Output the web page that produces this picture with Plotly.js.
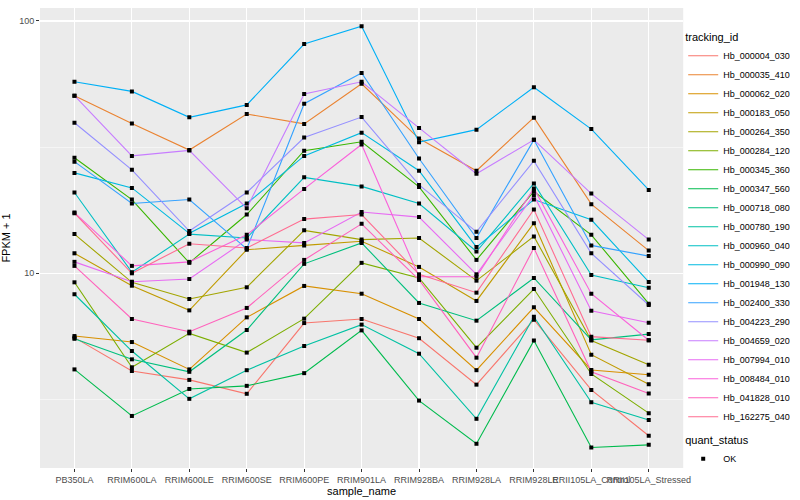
<!DOCTYPE html>
<html>
<head>
<meta charset="utf-8">
<script src="https://cdn.plot.ly/plotly-3.0.1.min.js"></script>
<style>html,body{margin:0;padding:0;background:#fff}#chart{width:800px;height:500px}</style>
</head>
<body>
<div id="chart"></div>
<script>
// Categories (x axis)
const samples = ["PB350LA","RRIM600LA","RRIM600LE","RRIM600SE","RRIM600PE","RRIM901LA",
                 "RRIM928BA","RRIM928LA","RRIM928LE","RRII105LA_Control","RRII105LA_Stressed"];

// Series names (legend order)
const trackingIds = ["Hb_000004_030","Hb_000035_410","Hb_000062_020","Hb_000183_050","Hb_000264_350",
  "Hb_000284_120","Hb_000345_360","Hb_000347_560","Hb_000718_080","Hb_000780_190","Hb_000960_040",
  "Hb_000990_090","Hb_001948_130","Hb_002400_330","Hb_004223_290","Hb_004659_020","Hb_007994_010",
  "Hb_008484_010","Hb_041828_010","Hb_162275_040"];

// Series colours (ggplot hue palette, 20 levels)
const seriesColors = ["#F8766D","#EA8331","#D89000","#C09B00","#A3A500","#7CAE00","#39B600","#00BB4E",
  "#00BF7D","#00C1A3","#00BFC4","#00BAE0","#00B0F6","#35A2FF","#9590FF","#C77CFF","#E76BF3",
  "#FA62DB","#FF62BC","#FF6C91"];

// FPKM + 1 values, one array per tracking_id, in sample order
const Hb_000004_030 = [5.56, 4.10, 3.78, 3.33, 6.35, 6.59, 5.53, 3.62, 6.55, 3.45, 2.27];
const Hb_000035_410 = [50.6, 39.2, 30.8, 42.8, 39.1, 56.4, 34.2, 25.5, 41.4, 18.8, 12.3];
const Hb_000062_020 = [5.64, 5.34, 4.16, 6.69, 8.91, 8.30, 6.59, 4.13, 7.33, 4.14, 3.96];
const Hb_000183_050 = [12.0, 8.93, 7.13, 12.4, 12.9, 13.4, 10.6, 7.77, 15.8, 4.76, 3.63];
const Hb_000264_350 = [14.3, 9.21, 7.91, 8.80, 14.8, 13.6, 13.8, 9.35, 14.0, 5.41, 4.34];
const Hb_000284_120 = [9.21, 4.24, 5.78, 4.85, 6.61, 11.0, 9.58, 5.07, 8.66, 3.99, 2.79];
const Hb_000345_360 = [28.7, 19.6, 11.0, 17.1, 30.6, 33.2, 22.0, 11.3, 21.1, 14.2, 7.58];
const Hb_000347_560 = [4.16, 2.72, 3.48, 3.58, 4.02, 5.94, 3.13, 2.11, 5.41, 2.04, 2.09];
const Hb_000718_080 = [5.50, 4.56, 4.07, 5.96, 10.9, 13.2, 7.63, 6.49, 9.58, 5.45, 5.74];
const Hb_000780_190 = [8.26, 4.92, 3.18, 4.13, 5.15, 6.26, 4.80, 2.65, 6.73, 3.08, 2.62];
const Hb_000960_040 = [20.9, 10.1, 14.3, 13.8, 24.0, 22.1, 18.9, 12.2, 22.7, 9.85, 8.77];
const Hb_000990_090 = [25.0, 21.8, 14.4, 18.9, 29.2, 36.1, 25.5, 12.7, 19.6, 16.3, 9.24];
const Hb_001948_130 = [57.4, 52.6, 41.5, 46.5, 81.0, 95.3, 33.1, 37.1, 54.6, 37.3, 21.4];
const Hb_002400_330 = [27.7, 18.9, 19.6, 12.5, 47.0, 62.2, 28.5, 13.8, 33.8, 12.9, 11.7];
const Hb_004223_290 = [39.5, 25.7, 14.7, 20.9, 34.5, 41.6, 22.4, 14.6, 27.9, 12.0, 7.49];
const Hb_004659_020 = [50.6, 29.2, 30.7, 18.1, 51.4, 57.4, 37.7, 24.8, 33.8, 20.7, 13.6];
const Hb_007994_010 = [11.1, 9.26, 9.49, 13.6, 13.2, 17.5, 16.7, 9.91, 20.4, 7.11, 6.37];
const Hb_008484_010 = [17.4, 10.7, 11.1, 14.2, 21.6, 32.4, 9.69, 9.69, 21.7, 8.30, 5.43];
const Hb_041828_010 = [10.7, 6.59, 5.87, 7.29, 11.3, 15.7, 9.41, 4.63, 12.6, 4.07, 3.34];
const Hb_162275_040 = [17.3, 10.0, 13.1, 12.6, 16.4, 17.1, 9.91, 8.38, 17.9, 5.61, 5.43];

const quantStatus = ["OK"];

const seriesValues = [Hb_000004_030, Hb_000035_410, Hb_000062_020, Hb_000183_050, Hb_000264_350,
  Hb_000284_120, Hb_000345_360, Hb_000347_560, Hb_000718_080, Hb_000780_190, Hb_000960_040,
  Hb_000990_090, Hb_001948_130, Hb_002400_330, Hb_004223_290, Hb_004659_020, Hb_007994_010,
  Hb_008484_010, Hb_041828_010, Hb_162275_040];

const traces = [];
trackingIds.forEach((id, i) => {
  traces.push({
    type: 'scatter', mode: 'lines', name: id,
    x: samples, y: seriesValues[i],
    line: {color: seriesColors[i], width: 1.1},
    legend: 'legend', hoverinfo: 'skip'
  });
});
// points (quant_status = OK)
const px = [], py = [];
seriesValues.forEach(vals => { vals.forEach((v, j) => { px.push(samples[j]); py.push(v); }); });
traces.push({
  type: 'scatter', mode: 'markers', name: quantStatus[0],
  x: px, y: py,
  marker: {symbol: 'square', size: 4, color: 'black'},
  legend: 'legend2', hoverinfo: 'skip'
});

const FONT = 'Liberation Sans, Arial, Helvetica, sans-serif';
const layout = {
  width: 800, height: 500,
  margin: {l: 40, r: 113, t: 8, b: 32, pad: 0},
  paper_bgcolor: 'white', plot_bgcolor: '#EBEBEB',
  font: {family: FONT, size: 9, color: '#4D4D4D'},
  showlegend: true,
  xaxis: {
    type: 'category', range: [-0.6, 10.6], tickangle: 0,
    showgrid: true, gridcolor: 'white', gridwidth: 1.1,
    ticks: 'outside', ticklen: 3, tickwidth: 1, tickcolor: '#333333',
    tickfont: {family: FONT, size: 9, color: '#4D4D4D'},
    showline: false, zeroline: false, fixedrange: true, automargin: false,
    title: {text: 'sample_name', font: {family: FONT, size: 11, color: 'black'}, standoff: 2}
  },
  yaxis: {
    type: 'log', range: [0.2283, 2.0515],
    tickmode: 'array', tickvals: [10, 100], ticktext: ['10', '100'],
    showgrid: true, gridcolor: 'white', gridwidth: 1.1,
    ticks: 'outside', ticklen: 3, tickwidth: 1, tickcolor: '#333333',
    tickfont: {family: FONT, size: 9, color: '#4D4D4D'},
    minor: {tickmode: 'array', tickvals: [3.1623, 31.623], showgrid: true, gridcolor: 'white', gridwidth: 0.5, ticks: ''},
    showline: false, zeroline: false, fixedrange: true, automargin: false,
    title: {text: 'FPKM + 1', font: {family: FONT, size: 11, color: 'black'}, standoff: 6}
  },
  legend: {
    xref: 'container', yref: 'container',
    x: 0.854, xanchor: 'left', y: 0.946, yanchor: 'top', maxheight: 480,
    title: {text: 'tracking_id', font: {family: FONT, size: 11, color: 'black'}},
    font: {family: FONT, size: 9, color: 'black'},
    bgcolor: 'rgba(0,0,0,0)', itemwidth: 30, tracegroupgap: 0, traceorder: 'normal'
  },
  legend2: {
    xref: 'container', yref: 'container',
    x: 0.854, xanchor: 'left', y: 0.14, yanchor: 'top', maxheight: 100,
    title: {text: 'quant_status', font: {family: FONT, size: 11, color: 'black'}},
    font: {family: FONT, size: 9, color: 'black'},
    bgcolor: 'rgba(0,0,0,0)', itemwidth: 30
  }
};

Plotly.newPlot('chart', traces, layout, {displayModeBar: false, staticPlot: true});
</script>
</body>
</html>
